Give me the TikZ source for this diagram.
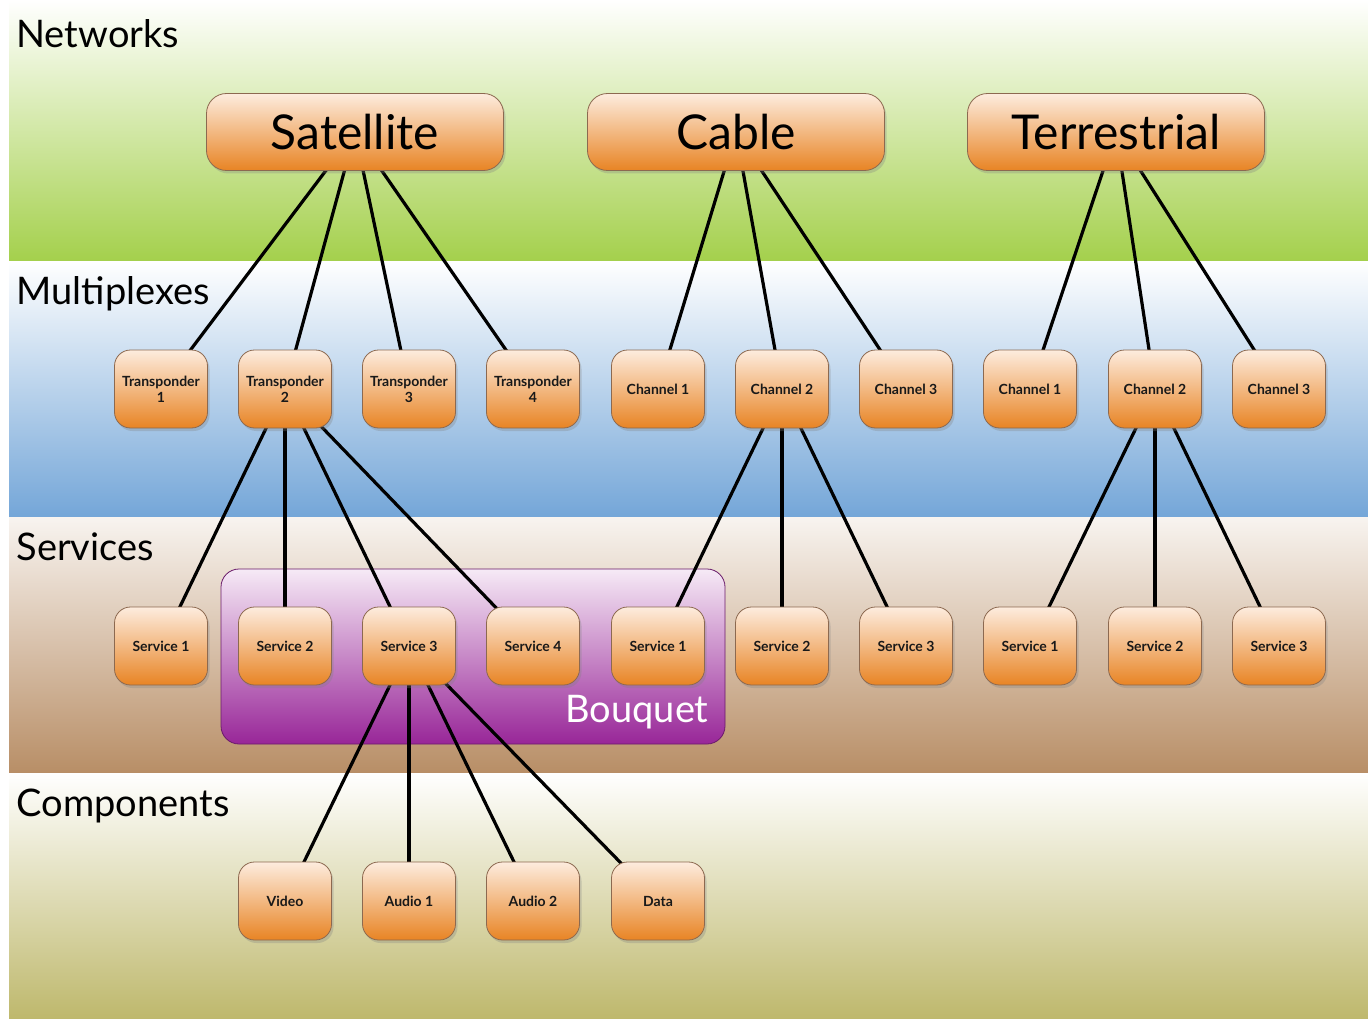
\documentclass[tikz,border=0pt]{standalone}
\usepackage{fontspec}
\setmainfont{Lato}
\usetikzlibrary{shadows}

\definecolor{netgreen}{RGB}{164,208,76}
\definecolor{muxblue}{RGB}{116,166,216}
\definecolor{svcbrown}{RGB}{184,142,102}
\definecolor{cmpolive}{RGB}{190,184,108}
\definecolor{boxtop}{RGB}{253,236,222}
\definecolor{boxbottom}{RGB}{232,132,36}
\definecolor{boxedge}{RGB}{140,105,80}
\definecolor{bqtop}{RGB}{246,234,246}
\definecolor{bqbottom}{RGB}{152,38,152}

\pgfdeclarelayer{bands}
\pgfdeclarelayer{links}
\pgfsetlayers{bands,links,main}

\tikzset{
  box/.style={draw=boxedge, line width=0.8pt, rounded corners=16pt,
    top color=boxtop, bottom color=boxbottom,
    minimum width=93pt, minimum height=78pt, inner sep=0pt, align=center,
    font=\fontsize{14}{16}\selectfont\bfseries, text=black!90,
    drop shadow={opacity=0.3, shadow xshift=2pt, shadow yshift=-3pt}},
  bigbox/.style={box, minimum width=297pt, minimum height=77pt,
    rounded corners=20pt, font=\fontsize{48}{56}\selectfont, text=black},
  layerlabel/.style={anchor=base west, font=\fontsize{38}{44}\selectfont},
  link/.style={line width=3.2pt, black},
}

\begin{document}
\begin{tikzpicture}[x=1pt, y=-1pt]
\useasboundingbox (0,0) rectangle (1368,1019);

% bands
\begin{pgfonlayer}{bands}
\fill[white] (0,0) rectangle (1368,1019);
\shade[top color=white, bottom color=netgreen] (9,0) rectangle (1368,261);
\shade[top color=white, bottom color=muxblue] (9,261) rectangle (1368,517);
\shade[top color=white!90!svcbrown, bottom color=svcbrown] (9,517) rectangle (1368,773);
\shade[top color=white, bottom color=cmpolive] (9,773) rectangle (1368,1019);
\shade[draw=bqbottom!70!black, line width=0.8pt, rounded corners=18pt,
  top color=bqtop, bottom color=bqbottom] (221,569) rectangle (725,744);
\end{pgfonlayer}

\node[layerlabel] (lnet) at (13,48) {Networks};
\node[layerlabel] (lmux) at (13,304) {Multiplexes};
\node[layerlabel] (lsvc) at (13,560) {Services};
\node[layerlabel] (lcmp) at (13,816) {Components};
\node[anchor=center, text=white, font=\fontsize{38}{44}\selectfont] (bouquet) at (637,712) {Bouquet};

% networks
\node[bigbox] (sat) at (355,132) {Satellite};
\node[bigbox] (cab) at (736,132) {Cable};
\node[bigbox] (ter) at (1116,132) {Terrestrial};

% multiplexes
\node[box] (tp1) at (161,389) {Transponder\\1};
\node[box] (tp2) at (285,389) {Transponder\\2};
\node[box] (tp3) at (409,389) {Transponder\\3};
\node[box] (tp4) at (533,389) {Transponder\\4};
\node[box] (cch1) at (658,389) {Channel 1};
\node[box] (cch2) at (782,389) {Channel 2};
\node[box] (cch3) at (906,389) {Channel 3};
\node[box] (tch1) at (1030,389) {Channel 1};
\node[box] (tch2) at (1155,389) {Channel 2};
\node[box] (tch3) at (1279,389) {Channel 3};

% services
\node[box] (ssv1) at (161,646) {Service 1};
\node[box] (ssv2) at (285,646) {Service 2};
\node[box] (ssv3) at (409,646) {Service 3};
\node[box] (ssv4) at (533,646) {Service 4};
\node[box] (csv1) at (658,646) {Service 1};
\node[box] (csv2) at (782,646) {Service 2};
\node[box] (csv3) at (906,646) {Service 3};
\node[box] (tsv1) at (1030,646) {Service 1};
\node[box] (tsv2) at (1155,646) {Service 2};
\node[box] (tsv3) at (1279,646) {Service 3};

% components
\node[box] (video) at (285,901) {Video};
\node[box] (audio1) at (409,901) {Audio 1};
\node[box] (audio2) at (533,901) {Audio 2};
\node[box] (data) at (658,901) {Data};

% links
\begin{pgfonlayer}{links}
\foreach \a/\b in {sat/tp1, sat/tp2, sat/tp3, sat/tp4,
    cab/cch1, cab/cch2, cab/cch3, ter/tch1, ter/tch2, ter/tch3,
    tp2/ssv1, tp2/ssv2, tp2/ssv3, tp2/ssv4,
    cch2/csv1, cch2/csv2, cch2/csv3, tch2/tsv1, tch2/tsv2, tch2/tsv3,
    ssv3/video, ssv3/audio1, ssv3/audio2, ssv3/data}
  \draw[link] (\a.center) -- (\b.center);
\end{pgfonlayer}
\end{tikzpicture}
\end{document}
